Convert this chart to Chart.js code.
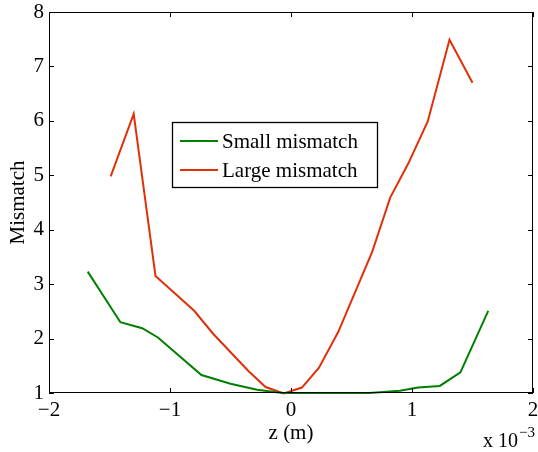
<!DOCTYPE html>
<html>
<head>
<meta charset="utf-8">
<script src="https://cdn.jsdelivr.net/npm/chart.js@4/dist/chart.umd.min.js"></script>
<style>
  body { margin: 0; background: #fff; }
  canvas { display: block; }
</style>
</head>
<body>
<canvas id="chartMismatch" width="538" height="452"></canvas>
<script>
// z positions are in units of 1e-3 m (axis shows "x 10^-3")
var smallZ = [-1.68, -1.41, -1.23, -1.10, -0.74, -0.50, -0.28, -0.07, 0.65, 0.90, 1.05, 1.23, 1.40, 1.63];
var smallMismatch = [3.23, 2.30, 2.19, 2.02, 1.33, 1.17, 1.06, 1.00, 1.00, 1.04, 1.10, 1.13, 1.38, 2.51];

var largeZ = [-1.49, -1.30, -1.12, -0.80, -0.64, -0.35, -0.21, -0.06, 0.09, 0.23, 0.39, 0.67, 0.82, 0.97, 1.13, 1.31, 1.50];
var largeMismatch = [4.98, 6.13, 3.15, 2.51, 2.08, 1.40, 1.11, 0.99, 1.10, 1.46, 2.12, 3.59, 4.59, 5.22, 5.99, 7.49, 6.70];

var xTicks = [-2, -1, 0, 1, 2];
var yTicks = [1, 2, 3, 4, 5, 6, 7, 8];
var seriesNames = ['Small mismatch', 'Large mismatch'];
var seriesColors = ['#007f00', '#e0300a'];

var fontFamily = '"Liberation Serif", "Times New Roman", serif';

function toPoints(xs, ys) {
    var pts = [];
    for (var i = 0; i < xs.length; i++) {
        pts.push({ x: xs[i], y: ys[i] });
    }
    return pts;
}

function noEdgePadding(scale) {
    scale.paddingLeft = 0;
    scale.paddingRight = 0;
    scale.paddingTop = 0;
    scale.paddingBottom = 0;
}

// matlab style box, inward ticks, legend and the exponent label
var matlabBox = {
    id: 'matlabBox',
    afterDraw: function(chart) {
        var ctx = chart.ctx;
        var a = chart.chartArea;
        var xs = chart.scales.x;
        var ys = chart.scales.y;
        var t = 5;
        ctx.save();
        ctx.strokeStyle = '#000';
        ctx.lineWidth = 1;
        ctx.strokeRect(a.left + 0.5, a.top + 0.5, a.right - a.left - 1, a.bottom - a.top - 1);
        ctx.beginPath();
        xTicks.forEach(function(v) {
            var px = Math.round(xs.getPixelForValue(v)) + 0.5;
            ctx.moveTo(px, a.bottom);
            ctx.lineTo(px, a.bottom - t);
            ctx.moveTo(px, a.top);
            ctx.lineTo(px, a.top + t);
        });
        yTicks.forEach(function(v) {
            var py = Math.round(ys.getPixelForValue(v)) + 0.5;
            ctx.moveTo(a.left, py);
            ctx.lineTo(a.left + t, py);
            ctx.moveTo(a.right, py);
            ctx.lineTo(a.right - t, py);
        });
        ctx.stroke();

        // legend
        var lx = 172, ly = 122, lw = 205, lh = 65;
        ctx.fillStyle = '#fff';
        ctx.fillRect(lx, ly, lw, lh);
        ctx.lineWidth = 1.3;
        ctx.strokeRect(lx + 0.5, ly + 0.5, lw, lh);
        ctx.font = '21px ' + fontFamily;
        ctx.textBaseline = 'middle';
        ctx.textAlign = 'left';
        chart.data.datasets.forEach(function(ds, i) {
            var cy = ly + 19 + i * 29;
            ctx.strokeStyle = ds.borderColor;
            ctx.lineWidth = 2;
            ctx.beginPath();
            ctx.moveTo(lx + 8, cy);
            ctx.lineTo(lx + 46, cy);
            ctx.stroke();
            ctx.fillStyle = '#000';
            ctx.fillText(ds.label, lx + 50, cy + 1);
        });

        // exponent under the x axis
        ctx.fillStyle = '#000';
        ctx.textBaseline = 'alphabetic';
        ctx.font = '20px ' + fontFamily;
        ctx.fillText('x 10', 483, 447);
        var w = ctx.measureText('x 10').width;
        ctx.font = '15px ' + fontFamily;
        ctx.fillText('\u22123', 483 + w + 1, 437);
        ctx.restore();
    }
};

var ctx = document.getElementById('chartMismatch');
var chart = new Chart(ctx, {
    type: 'line',
    data: {
        datasets: [{
            label: seriesNames[0],
            data: toPoints(smallZ, smallMismatch),
            borderColor: seriesColors[0],
            backgroundColor: seriesColors[0],
            borderWidth: 2,
            pointRadius: 0,
            tension: 0,
            fill: false
        }, {
            label: seriesNames[1],
            data: toPoints(largeZ, largeMismatch),
            borderColor: seriesColors[1],
            backgroundColor: seriesColors[1],
            borderWidth: 2,
            pointRadius: 0,
            tension: 0,
            fill: false
        }]
    },
    options: {
        responsive: false,
        devicePixelRatio: 1,
        animation: false,
        clip: false,
        layout: {
            padding: { top: 12, right: 5, left: 0, bottom: 0 }
        },
        plugins: {
            legend: { display: false },
            tooltip: { enabled: false }
        },
        scales: {
            x: {
                type: 'linear',
                min: -2,
                max: 2,
                afterBuildTicks: function(scale) {
                    scale.ticks = xTicks.map(function(v) { return { value: v }; });
                },
                afterFit: function(scale) {
                    scale.height = 59;
                    noEdgePadding(scale);
                },
                grid: { display: false, drawTicks: false },
                border: { display: false },
                ticks: {
                    color: '#000',
                    padding: 5,
                    maxRotation: 0,
                    autoSkip: false,
                    font: { family: fontFamily, size: 21 },
                    callback: function(v) { return v < 0 ? '\u2212' + Math.abs(v) : String(v); }
                },
                title: {
                    display: true,
                    text: 'z (m)',
                    color: '#000',
                    font: { family: fontFamily, size: 21 },
                    padding: { top: 0, bottom: 6 }
                }
            },
            y: {
                type: 'linear',
                min: 1,
                max: 8,
                afterBuildTicks: function(scale) {
                    scale.ticks = yTicks.map(function(v) { return { value: v }; });
                },
                afterFit: function(scale) {
                    scale.width = 49;
                    noEdgePadding(scale);
                },
                grid: { display: false, drawTicks: false },
                border: { display: false },
                ticks: {
                    color: '#000',
                    padding: 5,
                    autoSkip: false,
                    font: { family: fontFamily, size: 21 }
                },
                title: {
                    display: true,
                    text: 'Mismatch',
                    color: '#000',
                    font: { family: fontFamily, size: 21 },
                    padding: { top: 6, bottom: 0 }
                }
            }
        }
    },
    plugins: [matlabBox]
});
</script>
</body>
</html>
